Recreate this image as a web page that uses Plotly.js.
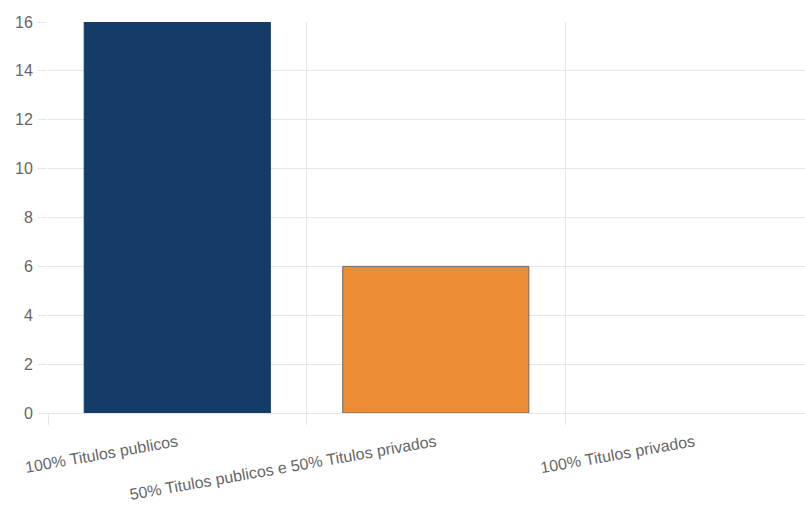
<!DOCTYPE html>
<html>
<head>
<meta charset="utf-8">
<script src="https://cdn.plot.ly/plotly-3.0.1.min.js"></script>
<style>html,body{margin:0;padding:0;background:#fff;}#chart{width:805px;height:506px;}</style>
</head>
<body>
<div id="chart"></div>
<script>
const categories = ["100% Titulos publicos", "50% Titulos publicos e 50% Titulos privados", "100% Titulos privados"];
const values = [16, 6, 0];
const barColors = ["#143C69", "#EC8C33", "#8a8a8a"];
const yTicks = [0, 2, 4, 6, 8, 10, 12, 14, 16];

const idx = categories.map((c, i) => i);

const trace = {
  type: "bar",
  x: idx,
  y: values,
  width: 0.72,
  marker: {
    color: barColors,
    line: {color: ["#143C69", "#6b6b6b", "#ffffff"], width: [1, 1, 0]}
  },
  hoverinfo: "x+y",
  showlegend: false
};

const grid = "#e6e6e6";
const font = {family: "Arial, 'Liberation Sans', sans-serif", size: 16, color: "#666"};
const xEnd = 2.428;

const layout = {
  width: 805,
  height: 506,
  margin: {l: 48, r: 0, t: 22, b: 93, pad: 0},
  paper_bgcolor: "#fff",
  plot_bgcolor: "#fff",
  font: font,
  bargap: 0,
  xaxis: {
    type: "linear",
    range: [-0.5, xEnd],
    tickmode: "array",
    tickvals: idx,
    ticktext: categories,
    tickangle: -10,
    showgrid: false,
    ticks: "",
    zeroline: false,
    showline: true,
    linecolor: grid,
    linewidth: 1,
    tickfont: font,
    ticklabelstandoff: 13
  },
  xaxis2: {
    type: "linear",
    overlaying: "x",
    matches: "x",
    side: "bottom",
    range: [-0.5, xEnd],
    tickmode: "array",
    tickvals: [-0.5, 0.5, 1.5, 2.5],
    showticklabels: false,
    showgrid: true,
    gridcolor: grid,
    gridwidth: 1,
    ticks: "outside",
    ticklen: 11,
    tickcolor: grid,
    zeroline: false,
    showline: false
  },
  yaxis: {
    range: [0, 16],
    tickmode: "array",
    tickvals: yTicks,
    showgrid: true,
    gridcolor: grid,
    gridwidth: 1,
    ticks: "outside",
    ticklen: 9,
    tickcolor: grid,
    zeroline: false,
    showline: false,
    tickfont: font,
    ticklabelstandoff: 2
  }
};

const gridTrace = {
  type: "scatter",
  x: [-0.5],
  y: [0],
  xaxis: "x2",
  mode: "markers",
  marker: {opacity: 0},
  hoverinfo: "skip",
  showlegend: false
};

Plotly.newPlot("chart", [gridTrace, trace], layout, {displayModeBar: false, staticPlot: true});
</script>
</body>
</html>
